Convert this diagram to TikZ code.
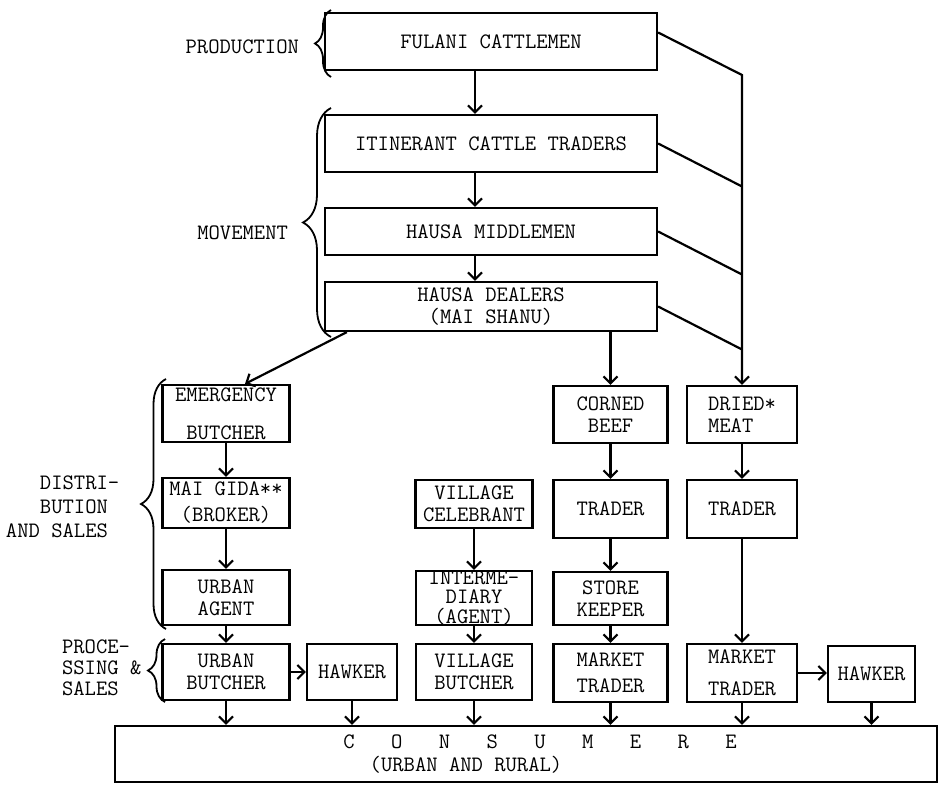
\documentclass[tikz,border=0pt]{standalone}
\usepackage{tikz}
\usetikzlibrary{arrows.meta, positioning, calc, decorations.pathreplacing}
\newcommand{\cg}{\hspace{18.2pt}}

\begin{document}
\begin{tikzpicture}[x=0.5pt, y=-0.5pt,
		font=\ttfamily\fontsize{11}{11}\selectfont,
		box/.style={draw, line width=1.1pt, align=center, inner xsep=1pt, inner ysep=0pt},
		arr/.style={line width=1.1pt, -{Straight Barb[length=3.5pt,width=7pt]}},
		ln/.style={line width=1.1pt},
		brc/.style={decorate, line width=0.9pt, decoration={brace, amplitude=#1}}]
	\useasboundingbox (0,0) rectangle (940,785);
	\node[box, minimum width=166pt, minimum height=28.5pt] (ful) at (491,41.5) {FULANI CATTLEMEN};
	\node[box, minimum width=166pt, minimum height=28.5pt] (itin) at (491,143.5) {ITINERANT CATTLE TRADERS};
	\node[box, minimum width=166pt, minimum height=23.5pt] (midd) at (491,231.5) {HAUSA MIDDLEMEN};
	\node[box, minimum width=166pt, minimum height=24.5pt] (deal) at (491,306.5) {HAUSA DEALERS\\(MAI SHANU)};
	\node[box, minimum width=63.5pt, minimum height=28.5pt] (emer) at (226,413.5) {EMERGENCY\\[8pt]BUTCHER};
	\node[box, minimum width=63.5pt, minimum height=25pt] (gida) at (226,503) {MAI GIDA**\\[2pt](BROKER)};
	\node[box, minimum width=63.5pt, minimum height=27.5pt] (uagt) at (226,597.5) {URBAN\\AGENT};
	\node[box, minimum width=63.5pt, minimum height=28pt] (ubut) at (226,672) {URBAN\\BUTCHER};
	\node[box, minimum width=45pt, minimum height=28pt] (hawka) at (352,672) {HAWKER};
	\node[box, minimum width=58.5pt, minimum height=24pt] (celb) at (474,504) {VILLAGE\\CELEBRANT};
	\node[box, minimum width=58pt, minimum height=27pt, font=\ttfamily\fontsize{11}{9.6}\selectfont] (inter) at (474,598) {INTERME-\\DIARY\\(AGENT)};
	\node[box, minimum width=58pt, minimum height=28pt] (vbut) at (474,672) {VILLAGE\\BUTCHER};
	\node[box, minimum width=57pt, minimum height=28.5pt] (corn) at (610.5,414.5) {CORNED\\BEEF};
	\node[box, minimum width=55pt, minimum height=28.5pt, align=left] (dried) at (742,414.5) {DRIED*\\MEAT};
	\node[box, minimum width=57pt, minimum height=29pt] (tradc) at (610.5,509) {TRADER};
	\node[box, minimum width=55pt, minimum height=29pt] (tradd) at (742,509) {TRADER};
	\node[box, minimum width=57pt, minimum height=26.5pt] (store) at (610.5,598.5) {STORE\\KEEPER};
	\node[box, minimum width=57pt, minimum height=29pt] (mktc) at (610.5,673) {MARKET\\[2pt]TRADER};
	\node[box, minimum width=55pt, minimum height=29pt] (mktd) at (742,673) {MARKET\\[5pt]TRADER};
	\node[box, minimum width=43.5pt, minimum height=28pt] (hawkb) at (871.5,674) {HAWKER};
	\node[box, minimum width=411pt, minimum height=28pt] (cons) at (526,754) {};
	\node[inner sep=0pt] (consa) at (540,742) {C\cg O\cg N\cg S\cg U\cg M\cg E\cg R\cg E};
	\node[inner sep=0pt] (consb) at (466,765) {(URBAN AND RURAL)};

	\node[anchor=east] (prod) at (306,47) {PRODUCTION};
	\node[anchor=east] (move) at (295,233) {MOVEMENT};
	\node[anchor=east, align=right, font=\ttfamily\fontsize{11}{12}\selectfont] (dist) at (115,507) {DISTRI\rlap{-}\\BUTION\\AND SALES};
	\node[anchor=west, align=left, font=\ttfamily\fontsize{11}{10.5}\selectfont] (proc) at (55,668) {PROCE-\\SSING \&\\SALES};
	\draw[brc=8pt] (331,77) -- (331,10);
	\draw[brc=14pt] (331,337) -- (331,108);
	\draw[brc=12.5pt] (166,629) -- (166,379);
	\draw[brc=8.5pt] (165,702) -- (165,639);

	\draw[arr] ([xshift=-8pt]ful.south) -- ([xshift=-8pt]itin.north);
	\draw[arr] ([xshift=-8pt]itin.south) -- ([xshift=-8pt]midd.north);
	\draw[arr] ([xshift=-8pt]midd.south) -- ([xshift=-8pt]deal.north);
	\coordinate (ja) at (742,75);
	\coordinate (jb) at (742,186.5);
	\coordinate (jc) at (742,274.5);
	\coordinate (jd) at (742,349.5);
	\draw[arr] ([yshift=4.5pt]ful.east) -- (ja) -- (dried.north);
	\draw[ln] (itin.east) -- (jb);
	\draw[ln] (midd.east) -- (jc);
	\draw[ln] (deal.east) -- (jd);
	\draw[arr] (deal.south -| corn.north) -- (corn.north);
	\draw[arr] ([xshift=11.5pt]deal.south west) -- ([xshift=9.5pt]emer.north);

	\draw[arr] (emer) -- (gida);
	\draw[arr] (gida) -- (uagt);
	\draw[arr] (uagt) -- (ubut);
	\draw[arr] (ubut) -- (hawka);
	\draw[arr] (ubut.south) -- (ubut.south |- cons.north);
	\draw[arr] (hawka.south) -- (hawka.south |- cons.north);
	\draw[arr] (celb) -- (inter);
	\draw[arr] (inter) -- (vbut);
	\draw[arr] (vbut.south) -- (vbut.south |- cons.north);
	\draw[arr] (corn) -- (tradc);
	\draw[arr] (tradc) -- (store);
	\draw[arr] (store) -- (mktc);
	\draw[arr] (mktc.south) -- (mktc.south |- cons.north);
	\draw[arr] (dried) -- (tradd);
	\draw[arr] (tradd) -- (mktd);
	\draw[arr] (mktd.east) -- (mktd.east -| hawkb.west);
	\draw[arr] (mktd.south) -- (mktd.south |- cons.north);
	\draw[arr] (hawkb.south) -- (hawkb.south |- cons.north);
\end{tikzpicture}
\end{document}
